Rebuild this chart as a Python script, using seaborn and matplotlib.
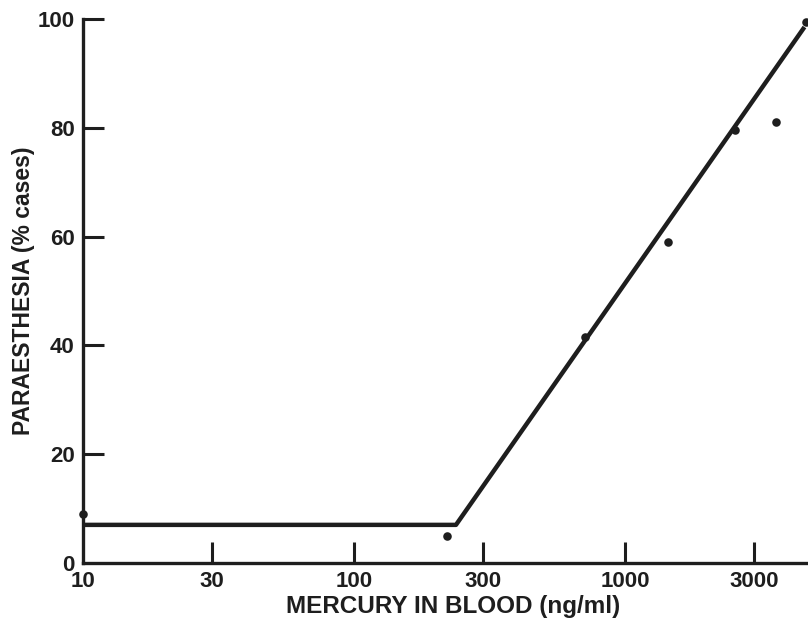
import matplotlib
matplotlib.use("Agg")
import matplotlib.pyplot as plt
import seaborn as sns
from matplotlib.ticker import FixedLocator, FixedFormatter, NullLocator

# Data
point_x = [10, 220, 710, 1440, 2550, 3600, 4650]
point_y = [9, 5, 41.5, 59, 79.5, 81, 99.5]

line_x = [10, 238, 4600]
line_y = [7, 7, 98.5]

x_ticks = [10, 30, 100, 300, 1000, 3000]
x_tick_labels = ["10", "30", "100", "300", "1000", "3000"]
y_ticks = [0, 20, 40, 60, 80, 100]
y_tick_labels = ["0", "20", "40", "60", "80", "100"]

sns.set_style("ticks")
plt.rcParams['font.family'] = ['Liberation Sans', 'DejaVu Sans']

ink = "#1e1e1e"
fig = plt.figure(figsize=(8.08, 6.29), dpi=100)
ax = fig.add_axes([0.1027, 0.105, 0.8973, 0.865])

sns.lineplot(x=line_x, y=line_y, ax=ax, color=ink, linewidth=3.2, sort=False,
             solid_capstyle="butt", clip_on=False)
sns.scatterplot(x=point_x, y=point_y, ax=ax, color=ink, s=38, edgecolor=ink,
                linewidth=0, clip_on=False, zorder=5)

ax.set_xscale("log")
ax.set_xlim(10, 4740)
ax.set_ylim(0, 100)

ax.xaxis.set_major_locator(FixedLocator(x_ticks))
ax.xaxis.set_major_formatter(FixedFormatter(x_tick_labels))
ax.xaxis.set_minor_locator(NullLocator())
ax.yaxis.set_major_locator(FixedLocator(y_ticks))
ax.yaxis.set_major_formatter(FixedFormatter(y_tick_labels))

for s in ["top", "right"]:
    ax.spines[s].set_visible(False)
for s in ["left", "bottom"]:
    ax.spines[s].set_linewidth(2.4)
    ax.spines[s].set_color(ink)

ax.tick_params(axis="both", direction="in", length=15, width=2.2, color=ink,
               labelsize=16, labelcolor=ink)
ax.tick_params(axis="x", pad=6)
ax.tick_params(axis="y", pad=6)
for lab in ax.get_xticklabels() + ax.get_yticklabels():
    lab.set_fontweight("bold")
ax.xaxis.get_major_ticks()[0].tick1line.set_visible(False)
ax.yaxis.get_major_ticks()[0].tick1line.set_visible(False)

ax.set_xlabel("MERCURY IN BLOOD (ng/ml)", fontsize=17.5, color=ink,
              fontweight="bold")
ax.xaxis.set_label_coords(0.51, -0.058)
ax.set_ylabel("PARAESTHESIA (% cases)", fontsize=16.5, color=ink, labelpad=2,
              fontweight="bold")

fig.savefig("out.png", dpi=100)
